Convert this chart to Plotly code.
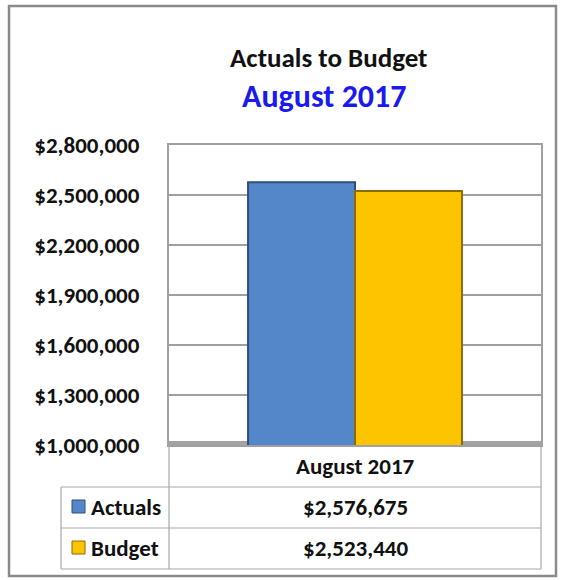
import plotly.graph_objects as go

# ---- data ----
categories = ["August 2017"]
series_names = ["Actuals", "Budget"]
series_values = [2576675, 2523440]
series_colors = ["#5487C9", "#FFC400"]
edge_colors = ["#2E4E7A", "#8C6A00"]
tick_values = [1000000, 1300000, 1600000, 1900000, 2200000, 2500000, 2800000]
title_main = "Actuals to Budget"
title_sub = "August 2017"

W, H = 561, 580
FONT = "Carlito, Lato, 'Open Sans', sans-serif"


def px(x):
    return x / W


def py(y):
    return 1 - y / H


fig = go.Figure()
for name, val, col, ec in zip(series_names, series_values, series_colors, edge_colors):
    fig.add_trace(go.Bar(
        x=categories, y=[val], name=name,
        marker=dict(color=col, line=dict(color=ec, width=2)),
        showlegend=False,
    ))

shapes = []
# outer frame
shapes.append(dict(type="rect", xref="paper", yref="paper",
                   x0=px(9), x1=px(556), y0=py(576), y1=py(6),
                   line=dict(color="#8A8A8A", width=2.5)))
grey = "#A8A8A8"
for (x0, y0, x1, y1) in [
    (169, 445, 169, 487), (541, 445, 541, 487),
    (61, 487, 541, 487), (61, 528, 541, 528), (61, 569, 541, 569),
    (61, 487, 61, 569), (169, 487, 169, 569), (541, 487, 541, 569),
]:
    shapes.append(dict(type="line", xref="paper", yref="paper",
                       x0=px(x0), x1=px(x1), y0=py(y0), y1=py(y1),
                       line=dict(color=grey, width=1.2)))
# plot floor (3D look)
shapes.append(dict(type="line", xref="paper", yref="paper",
                   x0=px(169), x1=px(541), y0=py(443), y1=py(443),
                   line=dict(color="#A3A3A3", width=4), layer="below"))
# legend keys
key_rows = [507, 548]
for yc, col, ec in zip(key_rows, series_colors, edge_colors):
    shapes.append(dict(type="rect", xref="paper", yref="paper",
                       x0=px(72), x1=px(85), y0=py(yc + 6), y1=py(yc - 7),
                       fillcolor=col, line=dict(color=ec, width=1)))

annotations = [
    dict(text="<b>" + title_main + "</b>", x=px(328), y=py(57), xref="paper", yref="paper",
         yanchor="middle", showarrow=False, font=dict(family=FONT, size=27, color="#111111")),
    dict(text="<b>" + title_sub + "</b>", x=px(324), y=py(96), xref="paper", yref="paper",
         yanchor="middle", showarrow=False, font=dict(family=FONT, size=32, color="#1A1AF0")),
    dict(text="<b>" + categories[0] + "</b>", x=px(355), y=py(466), xref="paper", yref="paper",
         yanchor="middle", showarrow=False, font=dict(family=FONT, size=23, color="#111111")),
]
for yc, name, val in zip(key_rows, series_names, series_values):
    annotations.append(dict(text="<b>" + name + "</b>", x=px(89), y=py(yc), xref="paper",
                            yref="paper", xanchor="left", yanchor="middle", showarrow=False,
                            font=dict(family=FONT, size=23, color="#111111")))
    annotations.append(dict(text="<b>" + f"${val:,.0f}" + "</b>", x=px(355), y=py(yc),
                            xref="paper", yref="paper", yanchor="middle", showarrow=False,
                            font=dict(family=FONT, size=23, color="#111111")))

fig.update_layout(
    width=W, height=H,
    margin=dict(l=0, r=0, t=0, b=0, pad=0),
    paper_bgcolor="white", plot_bgcolor="white",
    barmode="group", bargap=0.425, bargroupgap=0,
    shapes=shapes, annotations=annotations,
    xaxis=dict(domain=[px(169), px(541)], showticklabels=False, showgrid=False,
               showline=True, linecolor="#A0A0A0", linewidth=2, mirror=True,
               zeroline=False, automargin=False),
    yaxis=dict(domain=[py(445), py(145)], range=[1000000, 2800000],
               tickvals=tick_values, tickformat="$,.0f",
               showgrid=True, gridcolor="#A0A0A0", gridwidth=1.5,
               showline=True, linecolor="#A0A0A0", linewidth=2, mirror=True,
               zeroline=False, automargin=False, ticklabelstandoff=23,
               tickfont=dict(family=FONT, size=23, color="#111111", weight="bold")),
)

fig.write_html("out.html", config={"displayModeBar": False},
               post_script="document.body.style.margin='0';")
